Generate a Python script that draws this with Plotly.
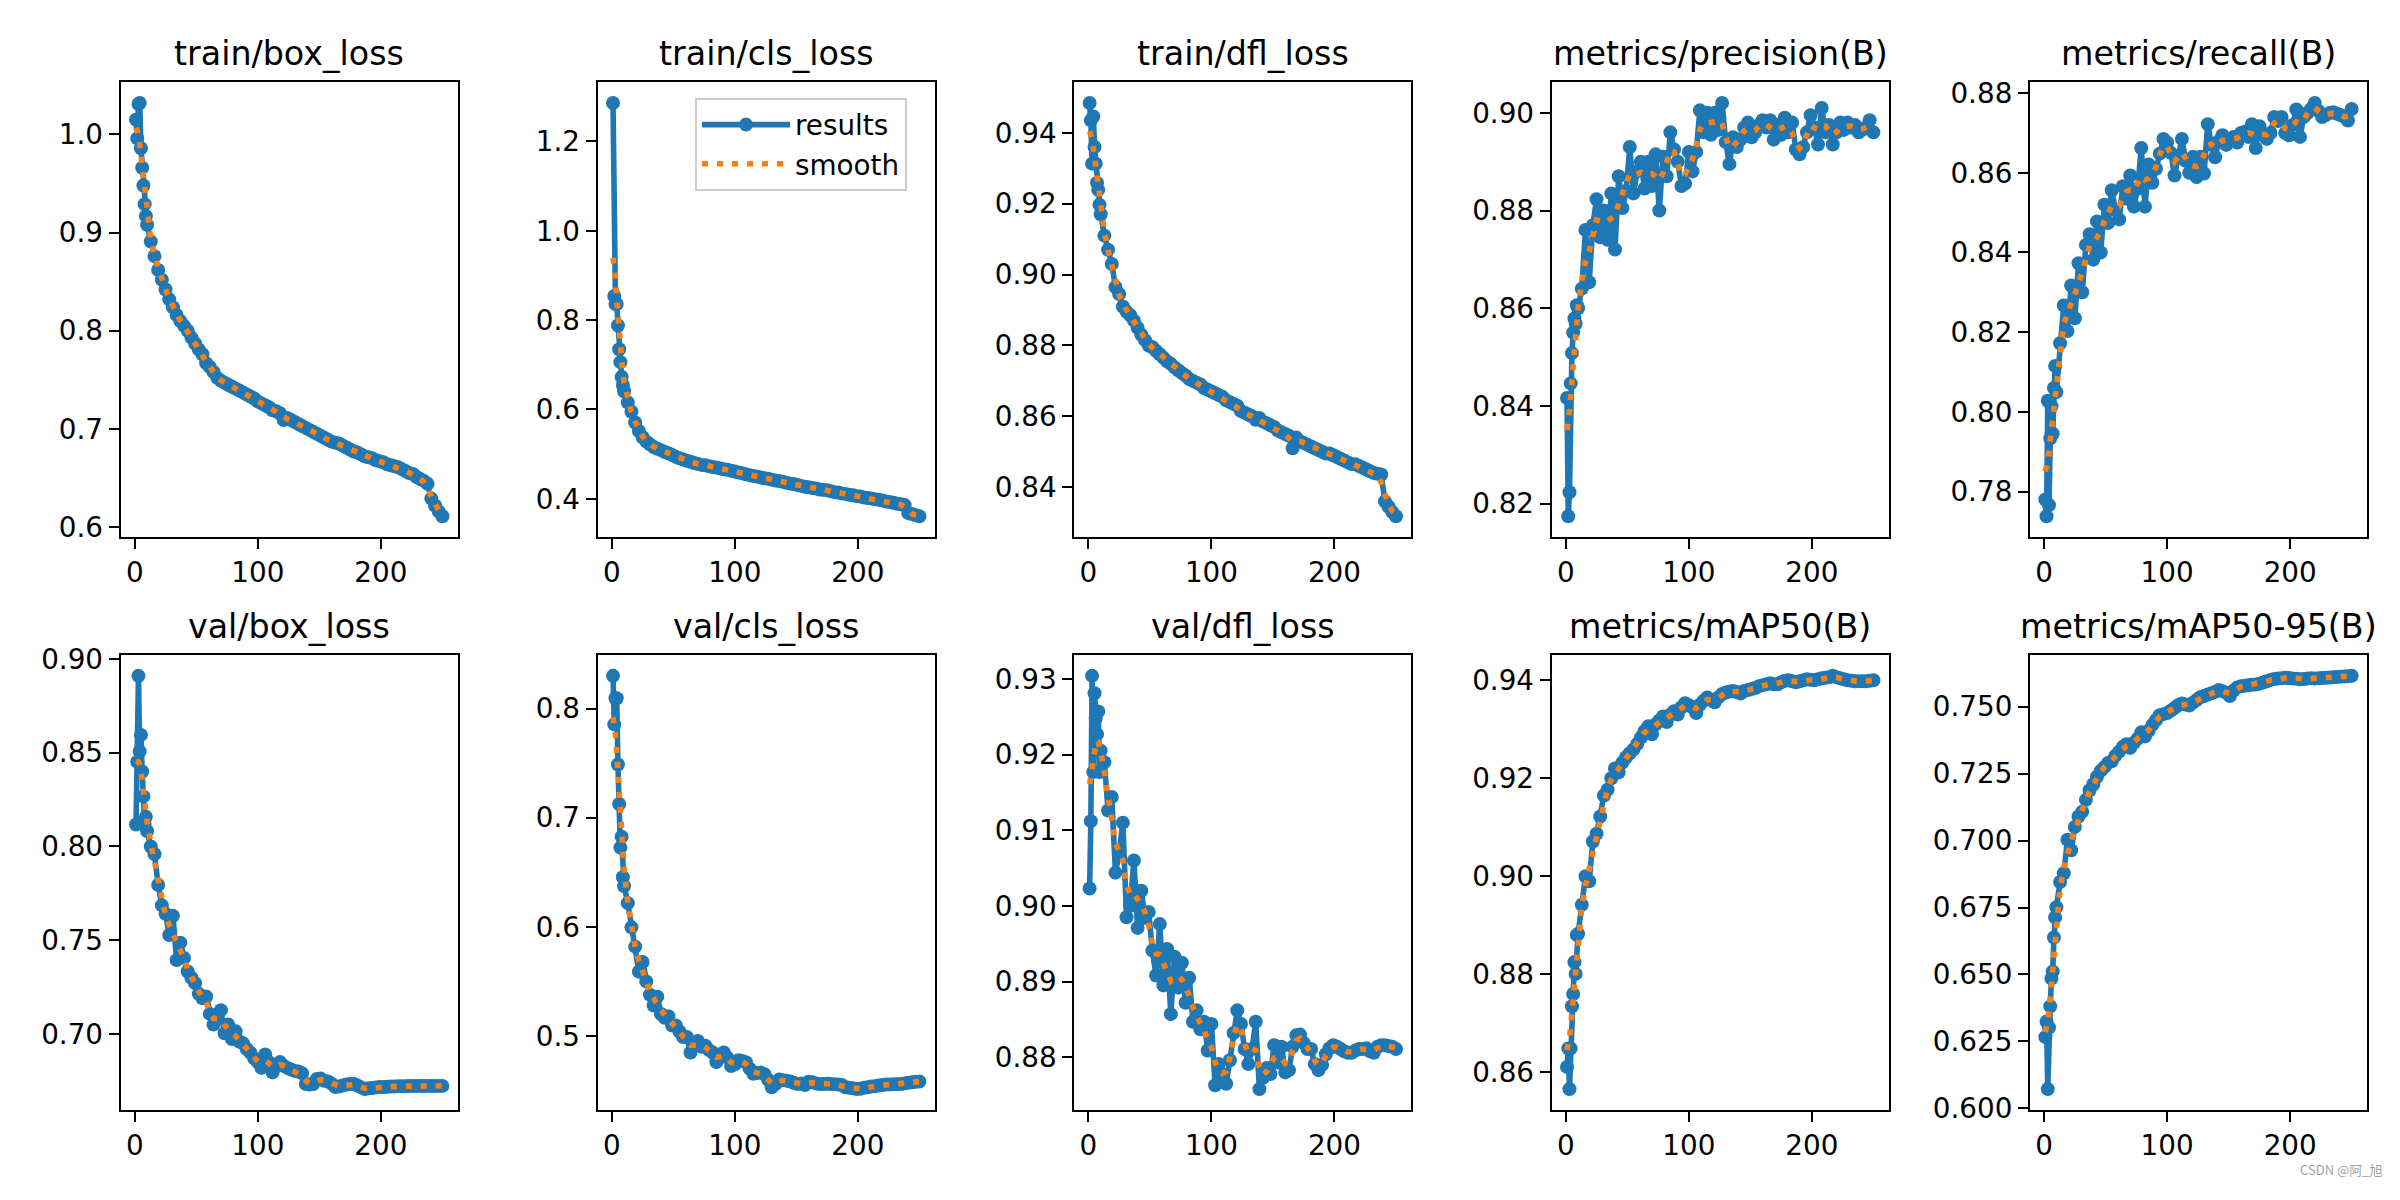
import numpy as np
import plotly.graph_objects as go
from plotly.subplots import make_subplots

# ---------------- data ----------------
EPOCHS = [1, 2, 3, 4, 5, 6, 7, 8, 9, 10,
          13, 16, 19, 22, 25, 28, 31, 34, 37, 40,
          43, 46, 49, 52, 55, 58, 61, 64, 67, 70,
          73, 76, 79, 82, 85, 88, 91, 94, 97, 100,
          103, 106, 109, 112, 115, 118, 121, 124, 127, 130,
          133, 136, 139, 142, 145, 148, 151, 154, 157, 160,
          163, 166, 169, 172, 175, 178, 181, 184, 187, 190,
          193, 196, 199, 202, 205, 208, 211, 214, 217, 220,
          223, 226, 229, 232, 235, 238, 241, 244, 247, 250]

TITLES = ["train/box_loss", "train/cls_loss", "train/dfl_loss",
          "metrics/precision(B)", "metrics/recall(B)",
          "val/box_loss", "val/cls_loss", "val/dfl_loss",
          "metrics/mAP50(B)", "metrics/mAP50-95(B)"]

train_box = [1.015, 0.996, 1.031, 1.032, 0.986, 0.966, 0.948, 0.929, 0.917, 0.908,
             0.891, 0.876, 0.862, 0.852, 0.842, 0.832, 0.824, 0.816, 0.810, 0.805,
             0.800, 0.793, 0.787, 0.781, 0.776, 0.767, 0.763, 0.758, 0.752, 0.749,
             0.747, 0.745, 0.743, 0.741, 0.739, 0.737, 0.735, 0.733, 0.731, 0.728,
             0.726, 0.724, 0.722, 0.719, 0.718, 0.716, 0.709, 0.711, 0.709, 0.707,
             0.705, 0.703, 0.701, 0.699, 0.697, 0.695, 0.693, 0.691, 0.689, 0.687,
             0.686, 0.685, 0.683, 0.681, 0.679, 0.677, 0.676, 0.674, 0.672, 0.671,
             0.670, 0.668, 0.667, 0.666, 0.664, 0.663, 0.662, 0.661, 0.659, 0.657,
             0.655, 0.654, 0.651, 0.649, 0.647, 0.644, 0.629, 0.622, 0.616, 0.611]

train_cls = [1.286, 0.854, 0.836, 0.836, 0.788, 0.735, 0.706, 0.673, 0.655, 0.641,
             0.616, 0.595, 0.571, 0.552, 0.538, 0.528, 0.522, 0.516, 0.512, 0.509,
             0.505, 0.502, 0.498, 0.494, 0.491, 0.488, 0.485, 0.483, 0.480, 0.478,
             0.476, 0.475, 0.473, 0.471, 0.470, 0.468, 0.466, 0.465, 0.463, 0.461,
             0.459, 0.457, 0.455, 0.453, 0.451, 0.450, 0.448, 0.446, 0.445, 0.443,
             0.441, 0.440, 0.438, 0.436, 0.434, 0.433, 0.431, 0.429, 0.427, 0.426,
             0.424, 0.423, 0.421, 0.420, 0.419, 0.417, 0.415, 0.414, 0.412, 0.411,
             0.409, 0.408, 0.406, 0.405, 0.403, 0.402, 0.401, 0.399, 0.398, 0.396,
             0.394, 0.393, 0.391, 0.389, 0.388, 0.386, 0.368, 0.366, 0.363, 0.361]

train_dfl = [0.9484, 0.9435, 0.9313, 0.9446, 0.9360, 0.9313, 0.9259, 0.9239, 0.9197, 0.9170,
             0.9110, 0.9070, 0.9030, 0.8965, 0.8945, 0.8910, 0.8895, 0.8885, 0.8870, 0.8850,
             0.8830, 0.8815, 0.8800, 0.8795, 0.8785, 0.8775, 0.8765, 0.8755, 0.8748, 0.8738,
             0.8730, 0.8722, 0.8715, 0.8705, 0.8700, 0.8695, 0.8690, 0.8680, 0.8675, 0.8670,
             0.8665, 0.8660, 0.8655, 0.8645, 0.8640, 0.8635, 0.8630, 0.8615, 0.8610, 0.8605,
             0.8600, 0.8590, 0.8595, 0.8585, 0.8580, 0.8575, 0.8570, 0.8560, 0.8555, 0.8550,
             0.8545, 0.8510, 0.8540, 0.8530, 0.8525, 0.8520, 0.8515, 0.8510, 0.8505, 0.8500,
             0.8495, 0.8495, 0.8490, 0.8485, 0.8480, 0.8475, 0.8470, 0.8465, 0.8465, 0.8460,
             0.8455, 0.8450, 0.8445, 0.8440, 0.8438, 0.8436, 0.8360, 0.8345, 0.8330, 0.8318]

precision = [0.8416, 0.8174, 0.8223, 0.8446, 0.8508, 0.8550, 0.8579, 0.8568, 0.8606, 0.8600,
             0.8640, 0.8760, 0.8653, 0.8770, 0.8823, 0.8745, 0.8800, 0.8740, 0.8835, 0.8720,
             0.8870, 0.8805, 0.8840, 0.8930, 0.8835, 0.8880, 0.8900, 0.8845, 0.8900, 0.8850,
             0.8915, 0.8800, 0.8910, 0.8870, 0.8960, 0.8925, 0.8900, 0.8850, 0.8855, 0.8920,
             0.8880, 0.8920, 0.9005, 0.8960, 0.9000, 0.8955, 0.9000, 0.8965, 0.9020, 0.8940,
             0.8895, 0.8950, 0.8930, 0.8945, 0.8970, 0.8980, 0.8950, 0.8960, 0.8975, 0.8985,
             0.8970, 0.8985, 0.8945, 0.8975, 0.8955, 0.8990, 0.8960, 0.8980, 0.8925, 0.8915,
             0.8930, 0.8960, 0.8995, 0.8970, 0.8935, 0.9010, 0.8960, 0.8975, 0.8935, 0.8960,
             0.8980, 0.8965, 0.8980, 0.8970, 0.8975, 0.8960, 0.8965, 0.8970, 0.8985, 0.8960]

recall = [0.7780, 0.7738, 0.8028, 0.7766, 0.7933, 0.8014, 0.7945, 0.8060, 0.8115, 0.8050,
          0.8172, 0.8267, 0.8203, 0.8317, 0.8235, 0.8373, 0.8300, 0.8419, 0.8446, 0.8382,
          0.8478, 0.8400, 0.8520, 0.8474, 0.8556, 0.8506, 0.8483, 0.8566, 0.8535, 0.8593,
          0.8515, 0.8560, 0.8662, 0.8515, 0.8621, 0.8575, 0.8610, 0.8648, 0.8685, 0.8676,
          0.8650, 0.8593, 0.8640, 0.8685, 0.8630, 0.8600, 0.8640, 0.8589, 0.8640, 0.8598,
          0.8722, 0.8670, 0.8639, 0.8680, 0.8694, 0.8670, 0.8685, 0.8690, 0.8676, 0.8700,
          0.8703, 0.8690, 0.8722, 0.8662, 0.8717, 0.8695, 0.8685, 0.8700, 0.8740, 0.8730,
          0.8740, 0.8700, 0.8694, 0.8720, 0.8759, 0.8690, 0.8740, 0.8750, 0.8760, 0.8775,
          0.8755, 0.8740, 0.8745, 0.8750, 0.8752, 0.8748, 0.8745, 0.8740, 0.8731, 0.8760]

val_box = [0.8117, 0.8452, 0.8910, 0.8507, 0.8595, 0.8400, 0.8267, 0.8120, 0.8158, 0.8082,
           0.8000, 0.7959, 0.7795, 0.7686, 0.7641, 0.7528, 0.7630, 0.7394, 0.7487, 0.7405,
           0.7333, 0.7300, 0.7271, 0.7214, 0.7190, 0.7200, 0.7107, 0.7050, 0.7080, 0.7127,
           0.7004, 0.7050, 0.6973, 0.7014, 0.6960, 0.6950, 0.6920, 0.6900, 0.6870, 0.6850,
           0.6819, 0.6891, 0.6850, 0.6795, 0.6830, 0.6850, 0.6830, 0.6819, 0.6810, 0.6803,
           0.6800, 0.6790, 0.6733, 0.6730, 0.6733, 0.6760, 0.6762, 0.6750, 0.6747, 0.6735,
           0.6717, 0.6720, 0.6725, 0.6730, 0.6733, 0.6733, 0.6725, 0.6715, 0.6706, 0.6710,
           0.6712, 0.6715, 0.6717, 0.6717, 0.6718, 0.6720, 0.6720, 0.6721, 0.6721, 0.6721,
           0.6722, 0.6722, 0.6723, 0.6723, 0.6722, 0.6723, 0.6723, 0.6722, 0.6723, 0.6723]

val_cls = [0.8300, 0.7855, 0.8095, 0.8095, 0.7488, 0.7125, 0.6726, 0.6825, 0.6454, 0.6373,
           0.6217, 0.5995, 0.5818, 0.5589, 0.5677, 0.5500, 0.5377, 0.5279, 0.5360, 0.5201,
           0.5166, 0.5180, 0.5095, 0.5095, 0.5040, 0.4990, 0.4990, 0.4848, 0.4920, 0.4954,
           0.4900, 0.4910, 0.4870, 0.4848, 0.4760, 0.4810, 0.4848, 0.4800, 0.4724, 0.4740,
           0.4777, 0.4770, 0.4760, 0.4700, 0.4654, 0.4660, 0.4664, 0.4650, 0.4600, 0.4530,
           0.4560, 0.4600, 0.4595, 0.4590, 0.4583, 0.4570, 0.4560, 0.4565, 0.4550, 0.4580,
           0.4575, 0.4565, 0.4560, 0.4560, 0.4562, 0.4560, 0.4558, 0.4555, 0.4550, 0.4530,
           0.4525, 0.4520, 0.4513, 0.4515, 0.4525, 0.4530, 0.4537, 0.4540, 0.4545, 0.4550,
           0.4555, 0.4556, 0.4558, 0.4558, 0.4560, 0.4565, 0.4570, 0.4575, 0.4580, 0.4583]

val_dfl = [0.9023, 0.9112, 0.9304, 0.9177, 0.9281, 0.9248, 0.9227, 0.9257, 0.9177, 0.9205,
           0.9190, 0.9126, 0.9144, 0.9044, 0.9070, 0.9110, 0.8985, 0.9000, 0.9060, 0.8971,
           0.9020, 0.8984, 0.8992, 0.8941, 0.8908, 0.8976, 0.8895, 0.8943, 0.8857, 0.8933,
           0.8892, 0.8925, 0.8872, 0.8905, 0.8847, 0.8862, 0.8837, 0.8847, 0.8809, 0.8844,
           0.8763, 0.8791, 0.8778, 0.8765, 0.8796, 0.8832, 0.8862, 0.8844, 0.8811, 0.8791,
           0.8811, 0.8847, 0.8758, 0.8773, 0.8786, 0.8778, 0.8816, 0.8793, 0.8814, 0.8780,
           0.8783, 0.8814, 0.8829, 0.8830, 0.8819, 0.8811, 0.8811, 0.8791, 0.8783, 0.8790,
           0.8804, 0.8812, 0.8816, 0.8814, 0.8811, 0.8808, 0.8806, 0.8806, 0.8809, 0.8811,
           0.8811, 0.8812, 0.8808, 0.8806, 0.8814, 0.8816, 0.8816, 0.8815, 0.8814, 0.8811]

map50 = [0.8611, 0.8649, 0.8566, 0.8649, 0.8735, 0.8760, 0.8825, 0.8801, 0.8880, 0.8883,
         0.8942, 0.9000, 0.8990, 0.9071, 0.9087, 0.9122, 0.9165, 0.9177, 0.9200, 0.9220,
         0.9212, 0.9232, 0.9243, 0.9251, 0.9259, 0.9270, 0.9283, 0.9296, 0.9306, 0.9290,
         0.9310, 0.9318, 0.9326, 0.9315, 0.9330, 0.9337, 0.9330, 0.9345, 0.9353, 0.9349,
         0.9345, 0.9333, 0.9350, 0.9358, 0.9365, 0.9360, 0.9355, 0.9365, 0.9372, 0.9375,
         0.9377, 0.9378, 0.9376, 0.9373, 0.9378, 0.9380, 0.9382, 0.9384, 0.9388, 0.9390,
         0.9392, 0.9394, 0.9392, 0.9392, 0.9396, 0.9399, 0.9400, 0.9398, 0.9396, 0.9398,
         0.9400, 0.9402, 0.9401, 0.9400, 0.9402, 0.9404, 0.9405, 0.9406, 0.9409, 0.9406,
         0.9404, 0.9402, 0.9400, 0.9399, 0.9398, 0.9398, 0.9398, 0.9398, 0.9399, 0.9400]

map50_95 = [0.6266, 0.6324, 0.6072, 0.6302, 0.6381, 0.6485, 0.6511, 0.6638, 0.6713, 0.6751,
            0.6845, 0.6878, 0.7003, 0.6964, 0.7051, 0.7090, 0.7108, 0.7152, 0.7188, 0.7210,
            0.7238, 0.7260, 0.7274, 0.7290, 0.7296, 0.7317, 0.7332, 0.7350, 0.7360, 0.7346,
            0.7365, 0.7380, 0.7404, 0.7389, 0.7410, 0.7432, 0.7450, 0.7468, 0.7472, 0.7476,
            0.7485, 0.7495, 0.7505, 0.7512, 0.7508, 0.7504, 0.7515, 0.7525, 0.7535, 0.7540,
            0.7545, 0.7550, 0.7555, 0.7562, 0.7558, 0.7552, 0.7540, 0.7560, 0.7572, 0.7576,
            0.7578, 0.7580, 0.7582, 0.7583, 0.7586, 0.7590, 0.7595, 0.7600, 0.7603, 0.7605,
            0.7606, 0.7608, 0.7607, 0.7605, 0.7604, 0.7602, 0.7603, 0.7605, 0.7606, 0.7605,
            0.7606, 0.7607, 0.7608, 0.7609, 0.7610, 0.7611, 0.7612, 0.7613, 0.7614, 0.7615]

SERIES = [train_box, train_cls, train_dfl, precision, recall,
          val_box, val_cls, val_dfl, map50, map50_95]

X_TICKS = ["0", "100", "200"]
Y_TICKS = [
    ["0.6", "0.7", "0.8", "0.9", "1.0"],
    ["0.4", "0.6", "0.8", "1.0", "1.2"],
    ["0.84", "0.86", "0.88", "0.90", "0.92", "0.94"],
    ["0.82", "0.84", "0.86", "0.88", "0.90"],
    ["0.78", "0.80", "0.82", "0.84", "0.86", "0.88"],
    ["0.70", "0.75", "0.80", "0.85", "0.90"],
    ["0.5", "0.6", "0.7", "0.8"],
    ["0.88", "0.89", "0.90", "0.91", "0.92", "0.93"],
    ["0.86", "0.88", "0.90", "0.92", "0.94"],
    ["0.600", "0.625", "0.650", "0.675", "0.700", "0.725", "0.750"],
]

for s in SERIES:
    assert len(s) == len(EPOCHS), len(s)


# ---------------- smoothing (gaussian, sigma = 3 epochs, reflect) ----------------
def gaussian_smooth(x, y, sigma=3.0):
    x = np.asarray(x, float)
    y = np.asarray(y, float)
    lo, hi = x[0] - 0.5, x[-1] + 0.5
    xx = np.concatenate([2 * lo - x[::-1], x, 2 * hi - x[::-1]])
    yy = np.concatenate([y[::-1], y, y[::-1]])
    dx = np.gradient(xx)
    out = np.empty_like(y)
    for i, xi in enumerate(x):
        d = xx - xi
        w = np.where(np.abs(d) <= 4 * sigma, np.exp(-0.5 * (d / sigma) ** 2), 0.0) * dx
        out[i] = np.sum(w * yy) / np.sum(w)
    return out


# ---------------- figure ----------------
W, H = 2400, 1200
FONT = "DejaVu Sans"
BLUE = "#1f77b4"
ORANGE = "#ff7f0e"

COL_LEFT = [120.7, 597.7, 1074.3, 1551.7, 2030.0]
PANEL_W = 337.0
ROW_TOP = [72.0, 658.0]
ROW_BOT = [537.0, 1123.0]

fig = make_subplots(rows=2, cols=5)

annotations = []
for k, (title, ys) in enumerate(zip(TITLES, SERIES)):
    r, c = divmod(k, 5)
    sm = gaussian_smooth(EPOCHS, ys)
    fig.add_trace(go.Scatter(
        x=EPOCHS, y=ys, mode="lines+markers", name="results",
        line=dict(color=BLUE, width=5.6),
        marker=dict(color=BLUE, size=14, line=dict(width=0)),
        showlegend=(k == 1), legendrank=1), row=r + 1, col=c + 1)
    fig.add_trace(go.Scatter(
        x=EPOCHS, y=sm, mode="lines", name="smooth",
        line=dict(color=ORANGE, width=5.6, dash="6px,9px"),
        showlegend=(k == 1), legendrank=2), row=r + 1, col=c + 1)

    allv = np.concatenate([np.asarray(ys), sm])
    ymin, ymax = float(allv.min()), float(allv.max())
    pad = 0.05 * (ymax - ymin)
    xmin, xmax = min(EPOCHS), max(EPOCHS)
    xpad = 0.05 * (xmax - xmin)

    idx = "" if k == 0 else str(k + 1)
    x0 = COL_LEFT[c] / W
    x1 = (COL_LEFT[c] + PANEL_W) / W
    y0 = 1 - ROW_BOT[r] / H
    y1 = 1 - ROW_TOP[r] / H
    common = dict(showline=True, mirror=True, linecolor="black", linewidth=2.2,
                  ticks="outside", ticklen=10, tickwidth=2.2, tickcolor="black",
                  showgrid=False, zeroline=False,
                  tickfont=dict(family=FONT, size=27.8, color="black"))
    fig.layout["xaxis" + idx].update(
        domain=[x0, x1], range=[xmin - xpad, xmax + xpad],
        tickvals=[float(t) for t in X_TICKS], ticktext=X_TICKS, **common)
    fig.layout["yaxis" + idx].update(
        domain=[y0, y1], range=[ymin - pad, ymax + pad],
        tickvals=[float(t) for t in Y_TICKS[k]], ticktext=Y_TICKS[k], **common)

    annotations.append(dict(
        text=title, x=(x0 + x1) / 2, y=y1, xref="paper", yref="paper",
        xanchor="center", yanchor="middle", yshift=29, showarrow=False,
        font=dict(family=FONT, size=33.3, color="black")))

annotations.append(dict(
    text="CSDN @阿_旭", x=2385 / W, y=1 - 1184 / H, xref="paper", yref="paper",
    xanchor="right", yanchor="middle", showarrow=False,
    font=dict(family="Noto Sans CJK SC", size=13, color="#a3a3a3")))

fig.update_layout(
    width=W, height=H,
    margin=dict(l=0, r=0, t=0, b=0),
    paper_bgcolor="white", plot_bgcolor="white",
    font=dict(family=FONT, color="black"),
    annotations=annotations,
    legend=dict(x=695 / W, y=1 - 88 / H, xanchor="left", yanchor="top",
                bgcolor="rgba(255,255,255,0.8)", bordercolor="#cccccc", borderwidth=2,
                font=dict(family=FONT, size=27.8, color="black"),
                itemwidth=88, tracegroupgap=0),
)

fig.write_html("out.html",
               config={"displayModeBar": False},
               post_script="document.body.style.margin='0';document.body.style.overflow='hidden';")
